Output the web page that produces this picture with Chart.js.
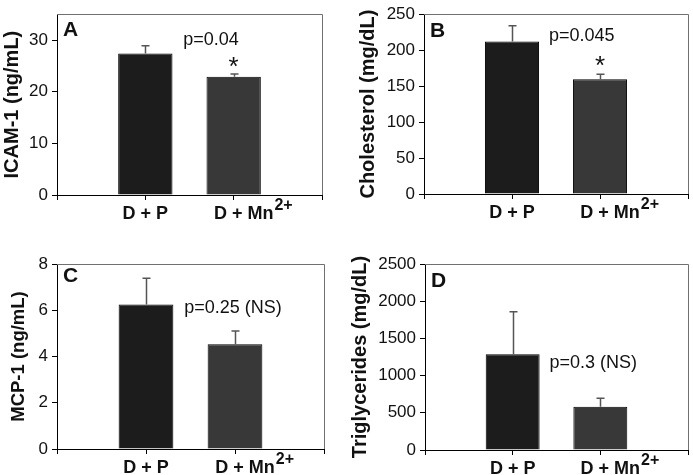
<!DOCTYPE html>
<html>
<head>
<meta charset="utf-8">
<script src="https://cdn.jsdelivr.net/npm/chart.js@4/dist/chart.umd.min.js"></script>
<style>
  html, body { margin: 0; padding: 0; background: #fff; }
  #wrap { position: relative; width: 693px; height: 475px; }
  .panel { position: absolute; }
</style>
</head>
<body>
<div id="wrap">
  <div class="panel" style="left:0;top:0;width:346px;height:237px"><canvas id="chartA"></canvas></div>
  <div class="panel" style="left:346px;top:0;width:347px;height:237px"><canvas id="chartB"></canvas></div>
  <div class="panel" style="left:0;top:237px;width:346px;height:238px"><canvas id="chartC"></canvas></div>
  <div class="panel" style="left:346px;top:237px;width:347px;height:238px"><canvas id="chartD"></canvas></div>
</div>
<script>
// Data
const categories = ["D + P", "D + Mn"];
const superscripts = ["", "2+"];

const icamValues = [27.4, 22.9];
const icamErrors = [1.5, 0.5];
const icamTicks = [0, 10, 20, 30];

const cholValues = [212, 159.5];
const cholErrors = [22, 7];
const cholTicks = [0, 50, 100, 150, 200, 250];

const mcpValues = [6.25, 4.53];
const mcpErrors = [1.13, 0.57];
const mcpTicks = [0, 2, 4, 6, 8];

const trigValues = [1286, 582];
const trigErrors = [573, 113];
const trigTicks = [0, 500, 1000, 1500, 2000, 2500];

const FONT = "'Liberation Sans', Arial, Helvetica, sans-serif";

function pad(arr) {
  return [null, ...arr, null];
}

function makePanel(id, cfg) {
  const decor = {
    id: "decor",
    beforeDatasetsDraw(chart) {
      // grey frame on top and right
      const { ctx, chartArea: a } = chart;
      ctx.save();
      ctx.strokeStyle = "#707070";
      ctx.lineWidth = 1;
      ctx.beginPath();
      ctx.moveTo(a.left, Math.round(a.top) + 0.5);
      ctx.lineTo(Math.round(a.right) + 0.5, Math.round(a.top) + 0.5);
      ctx.lineTo(Math.round(a.right) + 0.5, a.bottom);
      ctx.stroke();
      ctx.restore();
    },
    afterDatasetsDraw(chart) {
      // error bars (upper only)
      const { ctx } = chart;
      const yScale = chart.scales.y;
      const meta = chart.getDatasetMeta(0);
      const errs = pad(cfg.errors);
      const vals = pad(cfg.values);
      ctx.save();
      ctx.strokeStyle = "#555";
      ctx.lineWidth = 1.5;
      meta.data.forEach((bar, i) => {
        if (vals[i] == null) return;
        const x = Math.round(bar.x) + 0.5;
        const yTop = yScale.getPixelForValue(vals[i] + errs[i]);
        ctx.beginPath();
        ctx.moveTo(x, bar.y);
        ctx.lineTo(x, yTop);
        ctx.moveTo(x - 4, yTop);
        ctx.lineTo(x + 4, yTop);
        ctx.stroke();
      });
      ctx.restore();
    },
    afterDraw(chart) {
      const { ctx, chartArea: a } = chart;
      const xScale = chart.scales.x;
      const yScale = chart.scales.y;
      ctx.save();
      ctx.fillStyle = "#111";

      // category labels with superscript
      ctx.textBaseline = "middle";
      categories.forEach((c, i) => {
        const cx = xScale.getPixelForValue(i + 1);
        const ty = xScale.top + 19;
        ctx.font = "bold 18px " + FONT;
        const w = ctx.measureText(c).width;
        if (superscripts[i]) {
          const sx = cx - w / 2 + 10;
          ctx.textAlign = "left";
          ctx.fillText(c, sx, ty);
          ctx.font = "bold 16px " + FONT;
          ctx.fillText(superscripts[i], sx + w + 1, ty - 8);
        } else {
          ctx.textAlign = "center";
          ctx.fillText(c, cx, ty);
        }
      });

      // panel letter
      ctx.font = "bold 21px " + FONT;
      ctx.textAlign = "left";
      ctx.fillText(cfg.letter, a.left + 6, a.top + cfg.letterDy);

      // p value
      ctx.font = "18px " + FONT;
      ctx.fillText(cfg.pText, xScale.getPixelForValue(cfg.pX), yScale.getPixelForValue(cfg.pY));

      // significance star
      if (cfg.starY != null) {
        ctx.font = "26px " + FONT;
        ctx.textAlign = "center";
        ctx.textBaseline = "alphabetic";
        const m = ctx.measureText("*");
        const cy = yScale.getPixelForValue(cfg.starY);
        ctx.fillText("*", xScale.getPixelForValue(2), cy + (m.actualBoundingBoxAscent - m.actualBoundingBoxDescent) / 2);
      }
      ctx.restore();
    }
  };

  const ctx = document.getElementById(id).getContext("2d");
  return new Chart(ctx, {
    type: "bar",
    data: {
      labels: ["", ...categories, ""],
      datasets: [
        {
          data: pad(cfg.values),
          backgroundColor: ["#000", "#1c1c1c", "#383838", "#000"],
          borderColor: "#000",
          borderWidth: 1,
          barPercentage: 0.615,
          categoryPercentage: 1,
        },
      ],
    },
    options: {
      responsive: true,
      maintainAspectRatio: false,
      animation: false,
      layout: { padding: { top: cfg.padTop, right: cfg.padRight, left: 0, bottom: 0 } },
      plugins: {
        legend: { display: false },
        tooltip: { enabled: false },
      },
      scales: {
        x: {
          type: "category",
          offset: false,
          afterFit: (s) => { s.height = cfg.xHeight; },
          grid: { offset: false, drawOnChartArea: false, tickLength: 5, color: "#000" },
          border: { color: "#000", width: 1 },
          ticks: { color: "rgba(0,0,0,0)", autoSkip: false, maxRotation: 0 },
        },
        y: {
          min: 0,
          max: cfg.max,
          afterBuildTicks: (s) => { s.ticks = cfg.ticks.map((v) => ({ value: v })); },
          afterFit: (s) => { s.width = cfg.yWidth; },
          grid: { drawOnChartArea: false, tickLength: 5, color: "#000" },
          border: { color: "#000", width: 1 },
          ticks: {
            color: "#111",
            padding: 4,
            font: { size: 17, family: FONT },
            callback: (v) => String(v),
          },
          title: {
            display: true,
            text: cfg.yTitle,
            color: "#111",
            font: { size: cfg.titleSize, weight: "bold", family: FONT, lineHeight: 1.2 },
            padding: { top: cfg.titlePad, bottom: 0 },
          },
        },
      },
    },
    plugins: [decor],
  });
}

document.addEventListener("DOMContentLoaded", () => {
  makePanel("chartA", {
    values: icamValues, errors: icamErrors, ticks: icamTicks, max: 35,
    yTitle: "ICAM-1 (ng/mL)", titleSize: 20, titlePad: 0,
    letter: "A", letterDy: 16,
    pText: "p=0.04", pX: 1.43, pY: 30, starY: 25.8,
    padTop: 9, padRight: 24, yWidth: 57, xHeight: 42,
  });
  makePanel("chartB", {
    values: cholValues, errors: cholErrors, ticks: cholTicks, max: 250,
    yTitle: "Cholesterol (mg/dL)", titleSize: 20, titlePad: 10,
    letter: "B", letterDy: 17,
    pText: "p=0.045", pX: 1.42, pY: 219, starY: 185,
    padTop: 9, padRight: 5, yWidth: 78, xHeight: 43,
  });
  makePanel("chartC", {
    values: mcpValues, errors: mcpErrors, ticks: mcpTicks, max: 8,
    yTitle: "MCP-1 (ng/mL)", titleSize: 18.5, titlePad: 8,
    letter: "C", letterDy: 12,
    pText: "p=0.25 (NS)", pX: 1.43, pY: 6.08, starY: null,
    padTop: 27, padRight: 22, yWidth: 57, xHeight: 26,
  });
  makePanel("chartD", {
    values: trigValues, errors: trigErrors, ticks: trigTicks, max: 2500,
    yTitle: "Triglycerides (mg/dL)", titleSize: 20, titlePad: 2,
    letter: "D", letterDy: 17,
    pText: "p=0.3 (NS)", pX: 1.42, pY: 1169, starY: null,
    padTop: 27, padRight: 5, yWidth: 79, xHeight: 25,
  });
});
</script>
</body>
</html>
